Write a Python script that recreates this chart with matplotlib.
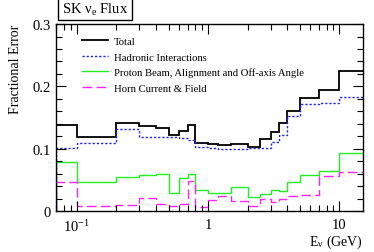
import matplotlib
matplotlib.use("Agg")
import matplotlib.pyplot as plt
from matplotlib.ticker import FixedLocator, MultipleLocator, NullFormatter

plt.rcParams['font.family'] = ['Liberation Serif', 'DejaVu Serif']
plt.rcParams['mathtext.fontset'] = 'stix'

# bin edges in GeV (first bin starts at the left edge of the axis)
edges = [0.0695, 0.1, 0.2, 0.3, 0.4, 0.5, 0.6, 0.7, 0.8, 1.0, 1.2, 1.5,
         2.0, 2.5, 3.0, 3.5, 4.0, 5.0, 7.0, 10.0, 30.0]

total = [0.138, 0.118, 0.142, 0.136, 0.133, 0.122, 0.129, 0.138, 0.109, 0.107,
         0.106, 0.108, 0.103, 0.1155, 0.127, 0.141, 0.161, 0.182, 0.194, 0.224]
hadronic = [0.1005, 0.109, 0.131, 0.119, 0.119, 0.118, 0.117, 0.114, 0.103, 0.101,
            0.100, 0.099, 0.101, 0.1005, 0.110, 0.122, 0.153, 0.172, 0.174, 0.183]
proton_beam = [0.079, 0.046, 0.054, 0.058, 0.059, 0.029, 0.053, 0.059, 0.033, 0.029,
               0.029, 0.038, 0.022, 0.027, 0.034, 0.0315, 0.046, 0.058, 0.065, 0.093]
horn = [0.046, 0.0075, 0.0096, 0.021, 0.012, 0.0075, 0.011, 0.048, 0.006, 0.018,
        0.0235, 0.0166, 0.0075, 0.020, 0.015, 0.019, 0.0235, 0.026, 0.0557, 0.063]

labels = ["Total", "Hadronic Interactions",
          "Proton Beam, Alignment and Off-axis Angle", "Horn Current & Field"]
yticks = [0, 0.1, 0.2, 0.3]
ytick_labels = ['0', '0.1', '0.2', '0.3']

fig = plt.figure(figsize=(3.74, 2.53), dpi=100)
ax = fig.add_axes([0.1497, 0.162, 0.8201, 0.739])

ax.stairs(total, edges, baseline=0, color='black', lw=1.3, label=labels[0])
ax.stairs(hadronic, edges, baseline=0, color='#2020ff', lw=1.0,
          linestyle=(0, (1.6, 1.4)), label=labels[1])
ax.stairs(proton_beam, edges, baseline=0, color='#22ee22', lw=1.0, label=labels[2])
ax.stairs(horn, edges, baseline=0, color='#ff22ff', lw=1.0,
          linestyle=(0, (7, 3)), label=labels[3])

ax.set_xscale('log')
ax.set_xlim(0.0695, 15.07)
ax.set_ylim(0, 0.3)

ax.xaxis.set_major_locator(FixedLocator([0.1, 1, 10]))
ax.set_xticklabels(['$\\mathregular{10^{-1}}$', '1', '10'])
ax.xaxis.set_minor_locator(FixedLocator(
    [m * d for d in (0.01, 0.1, 1) for m in range(2, 10)]))
ax.xaxis.set_minor_formatter(NullFormatter())
ax.yaxis.set_major_locator(FixedLocator(yticks))
ax.set_yticklabels(ytick_labels)
ax.yaxis.set_minor_locator(MultipleLocator(0.02))

ax.tick_params(which='both', direction='in', top=True, right=True,
               labelsize=10.5, width=0.8)
ax.tick_params(which='major', length=7)
ax.tick_params(which='minor', length=4)
ax.tick_params(axis='x', which='major', pad=5)
for s in ax.spines.values():
    s.set_linewidth(1.0)

ax.set_ylabel('Fractional Error', fontsize=10, y=1.0, ha='right', labelpad=8)
ax.set_xlabel('E$_{\\mathregular{\\nu}}$ (GeV)', fontsize=10, x=1.0, ha='right',
              labelpad=-1)

ax.legend(loc='upper left', bbox_to_anchor=(0.07, 0.955), frameon=False,
          fontsize=7.7, handlelength=2.5, handletextpad=0.5,
          labelspacing=0.55, borderaxespad=0)

fig.text(0.165, 0.962, 'SK $\\mathregular{\\nu_e}$ Flux', fontsize=10.5,
         ha='left', va='center',
         bbox=dict(boxstyle='square,pad=0.25', fc='white', ec='black', lw=1.0))

fig.savefig('out.png', dpi=100)
